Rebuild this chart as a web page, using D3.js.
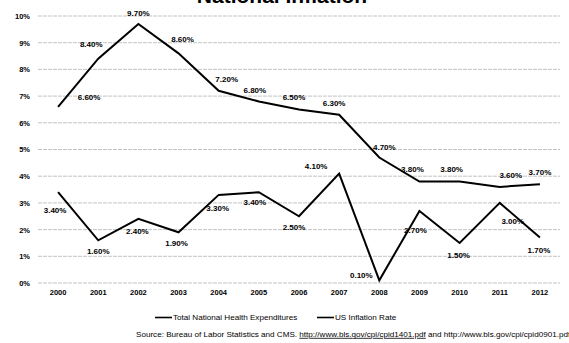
<!DOCTYPE html>
<html>
<head>
<meta charset="utf-8">
<script src="https://cdn.jsdelivr.net/npm/d3@7"></script>
<style>
  html, body { margin: 0; padding: 0; background: #fff; }
  svg { display: block; font-family: "Liberation Sans", Arial, sans-serif; }
</style>
</head>
<body>
<svg id="chart" width="569" height="343"></svg>
<script>
// Data
const years = ["2000","2001","2002","2003","2004","2005","2006","2007","2008","2009","2010","2011","2012"];
const healthExpenditures = [6.6, 8.4, 9.7, 8.6, 7.2, 6.8, 6.5, 6.3, 4.7, 3.8, 3.8, 3.6, 3.7];
const inflationRate = [3.4, 1.6, 2.4, 1.9, 3.3, 3.4, 2.5, 4.1, 0.1, 2.7, 1.5, 3.0, 1.7];
const yTicks = [0, 1, 2, 3, 4, 5, 6, 7, 8, 9, 10];
const seriesNames = ["Total National Health Expenditures", "US Inflation Rate"];

// Label offsets (px) from each point, placed to avoid the lines
const healthLabelOffset = [[31,-10],[-7,-15],[0,-11],[4,-14],[8,-12],[-4,-11],[-5,-12],[-5,-12],[5,-10],[-7,-12],[-8,-12],[11,-12],[0,-12]];
const inflationLabelOffset = [[-3,18],[0,11],[-1,12],[-2,11],[-1,13],[-4,10],[-5,11],[-23,-7],[-18,-5],[-4,19],[-1,12],[13,18],[-1,13]];

const svg = d3.select("#chart");
const margin = { left: 38, right: 9, top: 16, bottom: 60 };
const W = 569, H = 343;

const x = d3.scaleBand().domain(years).range([margin.left, W - margin.right]);
const y = d3.scaleLinear().domain([0, 10]).range([283, 16]);

// Title (runs off the top edge)
svg.append("text")
  .attr("x", 282).attr("y", 2.5)
  .attr("text-anchor", "middle")
  .style("font-size", "21px").style("font-weight", "bold")
  .text("National Inflation");

// Gridlines
svg.append("g").selectAll("line").data(yTicks).join("line")
  .attr("x1", margin.left).attr("x2", W - margin.right)
  .attr("y1", d => y(d)).attr("y2", d => y(d))
  .attr("stroke", "#b4b4b4").attr("stroke-width", 0.8)
  .attr("stroke-dasharray", "4,1");

// Y axis labels
const yAxis = d3.axisLeft(y).tickValues(yTicks).tickFormat(d => d + "%").tickSize(0).tickPadding(8);
const gy = svg.append("g").attr("transform", `translate(${margin.left},0)`).call(yAxis);
gy.select(".domain").remove();
gy.selectAll("text").style("font-size", "7.5px").style("font-weight", "bold")
  .style("font-family", "'Liberation Sans', Arial, sans-serif").attr("fill", "#000");

// X axis labels
const xAxis = d3.axisBottom(x).tickSize(0).tickPadding(7);
const gx = svg.append("g").attr("transform", `translate(0,${y(0)})`).call(xAxis);
gx.select(".domain").remove();
gx.selectAll("text").style("font-size", "7.5px").style("font-weight", "bold")
  .style("font-family", "'Liberation Sans', Arial, sans-serif").attr("fill", "#000");

const cx = (d, i) => x(years[i]) + x.bandwidth() / 2;
const line = d3.line().x(cx).y(d => y(d));

function drawSeries(values, offsets) {
  svg.append("path").datum(values)
    .attr("d", line).attr("fill", "none")
    .attr("stroke", "#000").attr("stroke-width", 2)
    .attr("stroke-linejoin", "miter");
  svg.append("g").selectAll("text").data(values).join("text")
    .attr("x", (d, i) => cx(d, i) + offsets[i][0])
    .attr("y", (d, i) => y(d) + offsets[i][1])
    .attr("dy", "0.35em")
    .attr("text-anchor", "middle")
    .style("font-size", "8px").style("font-weight", "bold")
    .text(d => d.toFixed(2) + "%");
}
drawSeries(healthExpenditures, healthLabelOffset);
drawSeries(inflationRate, inflationLabelOffset);

// Legend
const legend = svg.append("g");
const legendX = [155, 317];
seriesNames.forEach((name, i) => {
  legend.append("line")
    .attr("x1", legendX[i]).attr("x2", legendX[i] + 17)
    .attr("y1", 317.5).attr("y2", 317.5)
    .attr("stroke", "#000").attr("stroke-width", 1.6);
  legend.append("text")
    .attr("x", legendX[i] + 18).attr("y", 317.5).attr("dy", "0.35em")
    .style("font-size", "8.1px")
    .text(name);
});

// Source note
const src = svg.append("text").attr("x", 136).attr("y", 334).attr("dy", "0.35em").style("font-size", "8.1px");
src.append("tspan").text("Source: Bureau of Labor Statistics and CMS. ");
src.append("tspan").style("text-decoration", "underline").text("http://www.bls.gov/cpi/cpid1401.pdf");
src.append("tspan").text(" and http://www.bls.gov/cpi/cpid0901.pdf");
</script>
</body>
</html>
